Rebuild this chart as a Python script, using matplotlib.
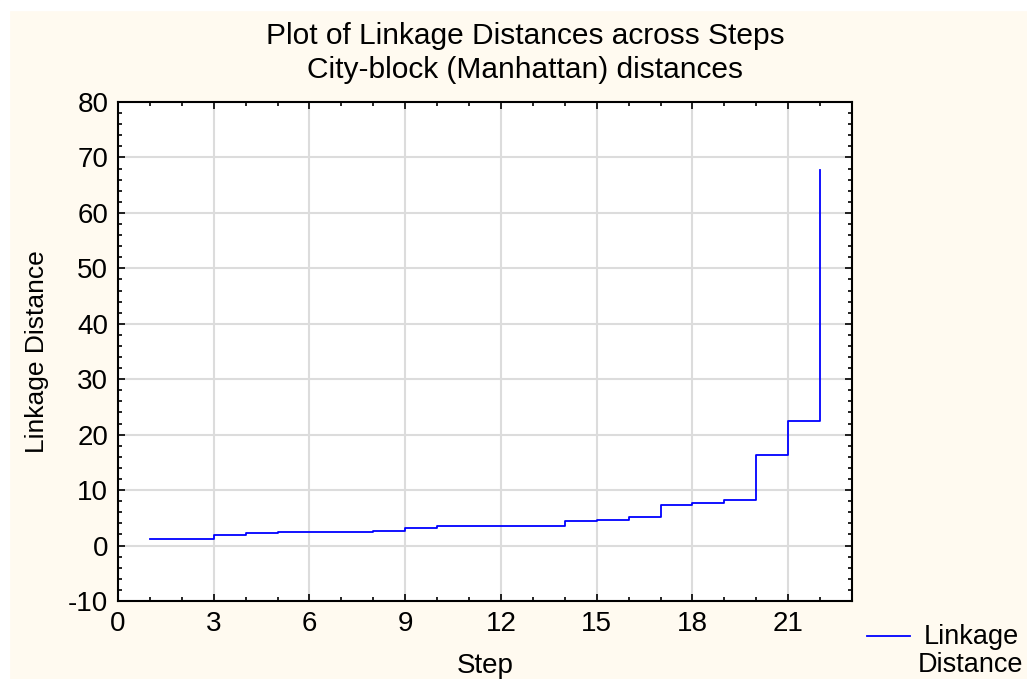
import numpy as np
import matplotlib.pyplot as plt
from matplotlib.patches import Rectangle
from matplotlib.lines import Line2D
from matplotlib.ticker import MultipleLocator

# linkage distances
steps = [1, 2, 3, 4, 5, 6, 7, 8, 9, 10, 11, 12, 13, 14, 15, 16, 17, 18, 19, 20, 21, 22]
dist = [1.2, 1.2, 1.9, 2.2, 2.45, 2.45, 2.45, 2.7, 3.1, 3.6, 3.6, 3.6, 3.6,
        4.4, 4.6, 5.1, 7.3, 7.6, 8.3, 16.3, 22.4, 67.7]
x_ticks = [0, 3, 6, 9, 12, 15, 18, 21]
y_ticks = [-10, 0, 10, 20, 30, 40, 50, 60, 70, 80]

plt.rcParams['font.family'] = ['Liberation Sans', 'DejaVu Sans']
plt.rcParams['axes.unicode_minus'] = False

fig = plt.figure(figsize=(10.27, 6.79), dpi=100, facecolor='#fffaf0')
# white strips at the top and left edge of the screenshot
fig.patches.append(Rectangle((0, 1 - 10/679), 1, 10/679, transform=fig.transFigure,
                             color='white', zorder=0))
fig.patches.append(Rectangle((0, 0), 9/1027, 1, transform=fig.transFigure,
                             color='white', zorder=0))

ax = fig.add_axes([118/1027, 1 - 601/679, 734/1027, 499/679])
ax.set_facecolor('white')

ax.plot(steps, dist, drawstyle='steps-post', color='#0000ff', lw=1.3)

ax.set_xlim(0, 23)
ax.set_ylim(-10, 80)
ax.set_xticks(x_ticks)
ax.set_yticks(y_ticks)
ax.xaxis.set_minor_locator(MultipleLocator(1))
ax.yaxis.set_minor_locator(MultipleLocator(2))
ax.grid(True, which='major', color='#dcdcdc', lw=1.5)
ax.set_axisbelow(True)

ax.tick_params(which='both', direction='in', top=True, right=True, labelsize=20,
               width=1.2, color='black')
ax.tick_params(which='major', length=5, pad=7)
ax.tick_params(which='minor', length=3)
for s in ax.spines.values():
    s.set_linewidth(1.5)

ax.set_xlabel('Step', fontsize=20, labelpad=12)
ax.set_ylabel('Linkage Distance', fontsize=19, labelpad=14)

fig.text(525/1027, 1 - 36/679, 'Plot of Linkage Distances across Steps',
         ha='center', va='center', fontsize=21.5)
fig.text(525/1027, 1 - 70/679, 'City-block (Manhattan) distances',
         ha='center', va='center', fontsize=21.5)

# legend outside the axes, bottom right
fig.add_artist(Line2D([867/1027, 910/1027], [1 - 636/679, 1 - 636/679],
                      transform=fig.transFigure, color='#0000ff', lw=1.3))
fig.text(971/1027, 1 - 651/679, 'Linkage\nDistance', ha='center', va='center',
         fontsize=19.5, linespacing=1.1)

fig.savefig('out.png', dpi=100, facecolor=fig.get_facecolor())
